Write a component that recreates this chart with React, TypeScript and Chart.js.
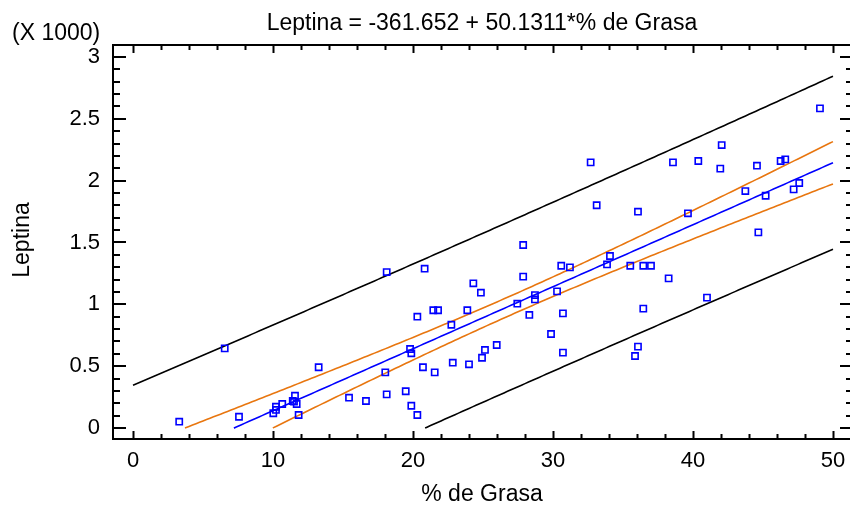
import React, { useEffect, useRef } from "react";
import { Chart, registerables } from "chart.js";
Chart.register(...registerables);

// % de Grasa (x) and Leptina (y)
const grasa = [
  3.3, 6.55, 7.57, 10.02, 10.21, 10.21, 10.66, 11.41, 11.5, 11.57, 11.69, 11.83, 13.26, 15.43, 16.64,
  18.02, 18.12, 18.12, 19.48, 19.79, 19.88, 19.88, 20.31, 20.31, 20.71, 20.83, 21.45, 21.55, 21.79,
  22.74, 22.84, 23.88, 24.0, 24.31, 24.85, 24.93, 25.14, 25.98, 27.45, 27.87, 27.87, 28.31, 28.71,
  28.71, 29.86, 30.29, 30.59, 30.71, 30.71, 31.21, 32.69, 33.12, 33.86, 34.07, 35.52, 35.86, 36.07,
  36.07, 36.45, 36.45, 37.0, 38.26, 38.57, 39.64, 40.38, 41.0, 41.95, 42.05, 43.74, 44.57, 44.67,
  45.19, 46.26, 46.59, 47.19, 47.59, 49.07,
];
const leptina = [
  51, 644, 91, 119, 146, 172, 194, 218, 213, 261, 194, 105, 491, 245, 218,
  450, 272, 1261, 297, 639, 604, 180, 105, 900, 491, 1288, 952, 450, 952,
  835, 528, 952, 515, 1170, 1094, 568, 631, 671, 1005, 1480, 1224, 914, 1075,
  1040, 760, 1105, 1312, 927, 609, 1299, 2148, 1801, 1323, 1391, 1312, 582, 658,
  1749, 1312, 965, 1312, 1210, 2148, 1736, 2159, 1054, 2097, 2288, 1916, 2121, 1582,
  1878, 2159, 2172, 1930, 1981, 2585,
];

// fitted model from the title
const intercept = -361.652;
const slope = 50.1311;
const tCrit = 1.9921; // t(0.975, n-2)

const xTickValues = [0, 10, 20, 30, 40, 50];
const yTickValues = [0, 500, 1000, 1500, 2000, 2500, 3000];
const titleText = "Leptina = -361.652 + 50.1311*% de Grasa";
const xTitle = "% de Grasa";
const yTitle = "Leptina";
const yUnit = "(X 1000)";

const FONT = "'Liberation Sans', Arial, sans-serif";

function buildCurves() {
  const n = grasa.length;
  const xbar = grasa.reduce((a, b) => a + b, 0) / n;
  let sxx = 0;
  let sse = 0;
  for (let i = 0; i < n; i++) {
    sxx += (grasa[i] - xbar) ** 2;
    const r = leptina[i] - (intercept + slope * grasa[i]);
    sse += r * r;
  }
  const s = Math.sqrt(sse / (n - 2));
  const fit = (x: number) => intercept + slope * x;
  const ci = (x: number) => tCrit * s * Math.sqrt(1 / n + (x - xbar) ** 2 / sxx);
  const pi = (x: number) => tCrit * s * Math.sqrt(1 + 1 / n + (x - xbar) ** 2 / sxx);
  const fns: Record<string, (x: number) => number> = {
    fit,
    ciU: (x) => fit(x) + ci(x),
    ciL: (x) => fit(x) - ci(x),
    piU: (x) => fit(x) + pi(x),
    piL: (x) => fit(x) - pi(x),
  };
  const out: Record<string, { x: number; y: number }[]> = {};
  for (const key of Object.keys(fns)) {
    const f = fns[key];
    const pts: { x: number; y: number }[] = [];
    const step = 0.25;
    let prev: number | null = null;
    for (let x = 0; x <= 50 + 1e-9; x += step) {
      const y = f(x);
      if (prev !== null && (f(prev) < 0) !== (y < 0)) {
        let a = prev, b = x;
        for (let k = 0; k < 40; k++) {
          const m = (a + b) / 2;
          if ((f(a) < 0) === (f(m) < 0)) a = m; else b = m;
        }
        pts.push({ x: (a + b) / 2, y: 0 });
      }
      if (y >= 0) pts.push({ x, y });
      prev = x;
    }
    out[key] = pts;
  }
  return out;
}

export default function App() {
  const ref = useRef<HTMLCanvasElement | null>(null);
  useEffect(() => {
    if (!ref.current) return;
    const curves = buildCurves();
    const framePlugin = {
      id: "frame",
      afterDraw(chart: any) {
        const ctx = chart.ctx;
        const { left, right, top, bottom } = chart.chartArea;
        const xs = chart.scales.x;
        const ys = chart.scales.y;
        ctx.save();
        ctx.strokeStyle = "#000";
        ctx.lineWidth = 2;
        ctx.strokeRect(left, top, right - left, bottom - top);
        ctx.beginPath();
        for (let v = 0; v <= 50; v += 2) {
          const px = Math.round(xs.getPixelForValue(v)) + 0.5;
          const len = v % 10 === 0 ? 8 : 5;
          ctx.moveTo(px, bottom);
          ctx.lineTo(px, bottom - len);
          ctx.moveTo(px, top);
          ctx.lineTo(px, top + len);
        }
        for (let v = 0; v <= 3000; v += 100) {
          const py = Math.round(ys.getPixelForValue(v));
          const len = v % 500 === 0 ? 13 : 7;
          ctx.moveTo(left, py);
          ctx.lineTo(left + len, py);
          ctx.moveTo(right, py);
          ctx.lineTo(right - len, py);
        }
        ctx.stroke();
        ctx.fillStyle = "#000";
        ctx.font = `23px ${FONT}`;
        ctx.textAlign = "center";
        ctx.textBaseline = "alphabetic";
        ctx.fillText(titleText, 482, 30);
        ctx.fillText(xTitle, 482, 501);
        ctx.textAlign = "left";
        ctx.fillText(yUnit, 12, 40);
        ctx.translate(29, 240);
        ctx.rotate(-Math.PI / 2);
        ctx.textAlign = "center";
        ctx.fillText(yTitle, 0, 0);
        ctx.restore();
      },
    };
    const lineDs = (label: string, data: any, color: string, order: number) => ({
      label,
      data,
      showLine: true,
      borderColor: color,
      borderWidth: 1.6,
      pointRadius: 0,
      fill: false,
      order,
    });
    const chart = new Chart(ref.current, {
      type: "scatter",
      data: {
        datasets: [
          {
            label: "Leptina",
            data: grasa.map((x, i) => ({ x, y: leptina[i] })),
            pointStyle: "rect",
            pointRadius: 4.4,
            pointBorderWidth: 1.6,
            borderColor: "#0000ff",
            backgroundColor: "rgba(0,0,0,0)",
            showLine: false,
            order: 0,
          } as any,
          lineDs("fit", curves.fit, "#0000ff", 1),
          lineDs("ciU", curves.ciU, "#e8760f", 2),
          lineDs("ciL", curves.ciL, "#e8760f", 2),
          lineDs("piU", curves.piU, "#000000", 3),
          lineDs("piL", curves.piL, "#000000", 3),
        ],
      },
      options: {
        responsive: false,
        animation: false,
        layout: { padding: { top: 45, right: 7, left: 0, bottom: 0 } },
        plugins: { legend: { display: false }, tooltip: { enabled: false }, title: { display: false } },
        scales: {
          x: {
            type: "linear",
            min: -1.43,
            max: 51.43,
            afterFit: (s: any) => { s.height = 71; },
            afterBuildTicks: (s: any) => { s.ticks = xTickValues.map((v) => ({ value: v })); },
            grid: { display: false, drawTicks: false },
            border: { display: false },
            ticks: { font: { family: FONT, size: 22 }, color: "#000", padding: 9, maxRotation: 0 },
          },
          y: {
            type: "linear",
            min: -89,
            max: 3097,
            afterFit: (s: any) => { s.width = 113; },
            afterBuildTicks: (s: any) => { s.ticks = yTickValues.map((v) => ({ value: v })); },
            grid: { display: false, drawTicks: false },
            border: { display: false },
            ticks: {
              font: { family: FONT, size: 22 },
              color: "#000",
              padding: 13,
              callback: (v: any) => String(Number(v) / 1000),
            },
          },
        },
      } as any,
      plugins: [framePlugin],
    });
    return () => chart.destroy();
  }, []);
  return (
    <div style={{ position: "fixed", left: 0, top: 0, width: 850, height: 510, overflow: "hidden", background: "#fff" }}>
      <canvas ref={ref} width={860} height={510} style={{ display: "block" }} />
    </div>
  );
}
